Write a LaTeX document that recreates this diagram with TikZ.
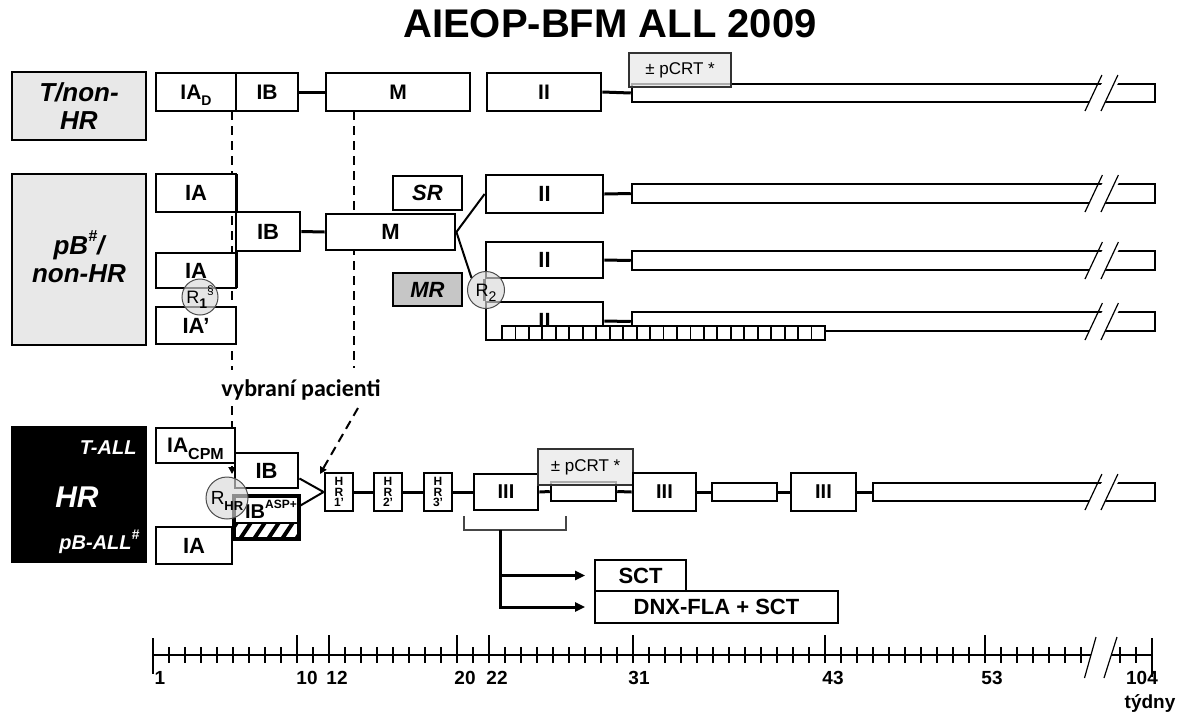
\documentclass[tikz,border=0pt]{standalone}
\usepackage{fontspec}
\setmainfont{Liberation Sans}
\newfontfamily\carl{Carlito}
\usetikzlibrary{arrows.meta,calc}
\definecolor{lightfill}{HTML}{E8E8E8}
\definecolor{mrfill}{HTML}{C6C6C6}
\newcommand\myfs[1]{\fontsize{#1}{#1}\selectfont}
\newcommand\sbs[2][14]{\raisebox{-0.3em}[0pt][0pt]{\myfs{#1}#2}}
\newcommand\sps[2][14]{\raisebox{0.5em}[0pt][0pt]{\myfs{#1}#2}}
\newcommand\mybox[7][]{%
  \pgfmathsetmacro\bxw{#5-(#3)}%
  \pgfmathsetmacro\bxh{#6-(#4)}%
  \node[box,#1,minimum width=\bxw pt,minimum height=\bxh pt] (#2) at ({(#3+#5)/2},{(#4+#6)/2}) {#7};}
\newcommand\brk[2]{%
  \fill[white] ({1085+0.47*7},{#2+2}) -- ({1085+0.47*(#2-#1+20)},{#1-2}) -- ({1101+0.47*(#2-#1+20)},{#1-2}) -- ({1101+0.47*7},{#2+2}) -- cycle;
  \draw[slash] (1085,{#2+9}) -- ({1085+0.47*(#2-#1+18)},{#1-9});
  \draw[slash] (1101,{#2+9}) -- ({1101+0.47*(#2-#1+18)},{#1-9});}
\begin{document}
\begin{tikzpicture}[x=1pt,y=-1pt,
  box/.style={draw,rectangle,line width=2.8pt,fill=white,inner sep=0pt,font=\myfs{22}\bfseries},
  boxit/.style={box,font=\myfs{22}\bfseries\itshape},
  lab/.style={box,fill=lightfill,align=center,font=\fontsize{26}{28}\selectfont\bfseries\itshape},
  bar/.style={line width=2.5pt},
  pcrt/.style={box,line width=1.5pt,draw=gray!40!black,fill=lightfill,fill opacity=0.75,text opacity=1,font=\myfs{17}},
  hrb/.style={box,align=center,font=\fontsize{12}{10.5}\selectfont\bfseries},
  conn/.style={line width=3pt},
  dashl/.style={line width=2pt,dash pattern=on 9pt off 6pt},
  rc/.style={circle,draw=gray!60!black,line width=1pt,fill=gray!30,fill opacity=0.65,text opacity=1,inner sep=0pt,minimum size=#1,font=\myfs{18}},
  slash/.style={line width=1.2pt},
  tick/.style={line width=2pt},
  tl/.style={font=\myfs{19}\bfseries},
  sarrow/.style={-{Triangle[length=7pt,width=7pt]}}
]
\useasboundingbox (0,0) rectangle (1186,713);

% title
\node[font=\myfs{40}\bfseries] (title) at (610,24) {AIEOP-BFM ALL 2009};

% dashed selection lines (under boxes)
\coordinate (dA1) at (232,111); \coordinate (dA2) at (232,370);
\coordinate (dB1) at (354,111); \coordinate (dB2) at (354,368);
\coordinate (dA3) at (232,406); \coordinate (dA4) at (232,474);
\coordinate (dC1) at (358,408); \coordinate (dC2) at (320,474);
\draw[dashl] (dA1) -- (dA2);
\draw[dashl] (dB1) -- (dB2);
\draw[dashl,sarrow] (dA3) -- (dA4);
\draw[dashl,sarrow] (dC1) -- (dC2);
\node[font=\carl\myfs{24}\bfseries] (vyb) at (301,390) {vybraní pacienti};

% ===== Row 1: T/non-HR =====
\mybox[lab]{lab1}{12}{72}{146}{140}{T/non-\\HR}
\mybox[font=\myfs{21}\bfseries]{iaD}{156}{73}{236}{111}{IA\sbs{D}}
\mybox[font=\myfs{21}\bfseries]{ib1}{236}{73}{298}{111}{IB}
\mybox[font=\myfs{21}\bfseries]{m1}{326}{73}{470}{111}{M}
\mybox[font=\myfs{21}\bfseries]{ii1}{487}{73}{601}{111}{II}
\mybox[bar]{bar1}{632}{84}{1155}{102}{}
\brk{84}{102}
\mybox[pcrt]{pc1}{629}{53}{731}{87}{± pCRT *}
\draw[conn] (ib1.east) -- (m1.west);
\draw[conn] (ii1.east) -- (bar1.west);

% ===== Row 2: pB/non-HR =====
\mybox[lab]{lab2}{12}{174}{146}{345}{pB\sps[16]{\#}/\\non-HR}
\draw[conn] (236,174) -- (236,288);
\mybox{ia2a}{156}{174}{236}{212}{IA}
\mybox{ia2b}{156}{253}{236}{288}{IA}
\mybox{ia2c}{156}{307}{236}{344}{IA'}
\mybox{ib2}{236}{212}{300}{251}{IB}
\mybox{m2}{326}{214}{455}{250}{M}
\mybox[boxit]{sr}{393}{176}{462}{210}{SR}
\mybox[boxit,fill=mrfill]{mr}{393}{273}{462}{306}{MR}
\draw[conn] (ib2.east) -- (m2.west);
\mybox{ii2a}{486}{175}{603}{213}{II}
\mybox{ii2b}{486}{242}{603}{278}{II}
\mybox{ii2c}{486}{302}{603}{340}{II}
\draw[conn] (ii2b.south west) -- (ii2c.north west);
\mybox[bar]{bar2a}{632}{184}{1155}{203}{}
\mybox[bar]{bar2b}{632}{251}{1155}{270}{}
\mybox[bar]{bar2c}{632}{312}{1155}{331}{}
\brk{184}{203}
\brk{251}{270}
\brk{312}{331}
\draw[conn] (ii2a.east) -- (bar2a.west);
\draw[conn] (ii2b.east) -- (bar2b.west);
\draw[conn] (ii2c.east) -- (bar2c.west);
\mybox[bar,line width=1.5pt]{hatch}{502}{326}{825}{340}{}
\foreach \k in {1,...,23}{\draw[line width=1.8pt] ({502+\k*13.46},326) -- ({502+\k*13.46},340);}
\draw[line width=2pt] (m2.east) -- (ii2a.west);
\node[rc=37] (r2) at (486,290) {R\sbs[14]{2}};
\draw[line width=2pt] (m2.east) -- (r2.140);
\node[rc=36] (r1) at (200,297) {R\sbs[14]{\bfseries 1}\sps[12]{§}};

% ===== Row 3: HR =====
\mybox[lab,fill=black]{lab3}{12}{427}{146}{562}{}
\node[anchor=east,text=white,font=\myfs{20}\bfseries\itshape] (lab3t) at (140,448) {T-ALL};
\node[text=white,font=\myfs{30}\bfseries\itshape] (lab3h) at (77,497) {HR};
\node[anchor=east,text=white,font=\myfs{20}\bfseries\itshape] (lab3p) at (143,545) {pB-ALL\sps[14]{\#}};
\mybox[font=\myfs{21}\bfseries]{iacpm}{156}{428}{235}{463}{IA\sbs[16]{CPM}}
\mybox{ib3}{235}{453}{298}{488}{IB}
\mybox{ibasp}{235}{497}{298}{538}{}
\begin{scope}
  \clip (235,523) rectangle (298,538);
  \foreach \i in {0,...,7}{\draw[line width=4pt] ({222+\i*14},545) -- ({242+\i*14},515);}
\end{scope}
\draw[line width=2.8pt] (ibasp.north west) rectangle (ibasp.south east);
\draw[line width=2.8pt] (235,523) -- (298,523);
\node[anchor=east,font=\myfs{20}\bfseries,inner sep=0pt] (ibasptxt) at (297,512) {IB\sps[12]{ASP+}};
\mybox{ia3}{156}{527}{232}{564}{IA}
\mybox[hrb]{hr1}{325}{473}{353}{511}{H\\R\\1'}
\mybox[hrb]{hr2}{374}{473}{402}{511}{H\\R\\2'}
\mybox[hrb]{hr3}{424}{473}{452}{511}{H\\R\\3'}
\draw[line width=2pt] ($(ib3.south east)!0.29!(ib3.north east)$) -- (hr1.west);
\draw[line width=2pt] ($(ibasp.north east)!0.24!(ibasp.south east)$) -- (hr1.west);
\mybox[font=\myfs{20}\bfseries]{iii1}{474}{474}{538}{510}{III}
\mybox[bar]{sb1}{551}{482}{616}{501}{}
\mybox[pcrt]{pc2}{538}{449}{633}{485}{± pCRT *}
\mybox[font=\myfs{20}\bfseries]{iii2}{633}{473}{696}{511}{III}
\mybox[bar]{sb2}{712}{483}{777}{501}{}
\mybox[font=\myfs{20}\bfseries]{iii3}{791}{473}{856}{511}{III}
\mybox[bar]{bar3}{873}{483}{1155}{501}{}
\brk{483}{501}
\draw[conn] (hr1.east) -- (hr2.west);
\draw[conn] (hr2.east) -- (hr3.west);
\draw[conn] (hr3.east) -- (iii1.west);
\draw[conn] (iii1.east) -- (sb1.west);
\draw[conn] (sb1.east) -- (iii2.west);
\draw[conn] (iii2.east) -- (sb2.west);
\draw[conn] (sb2.east) -- (iii3.west);
\draw[conn] (iii3.east) -- (bar3.west);
\node[rc=42,font=\myfs{19}] (rhr) at (227,498) {R\sbs[13]{\bfseries HR}};

% bracket and SCT arrows
\mybox[box,line width=1.8pt,font=\myfs{22}\bfseries]{sct}{595}{560}{686}{591}{SCT}
\mybox[box,line width=1.8pt,font=\myfs{22}\bfseries]{dnx}{595}{591}{838}{623}{DNX-FLA + SCT}
\coordinate (bl) at (464,516); \coordinate (br) at (566,516); \coordinate (bm) at (500,530);
\draw[line width=2pt,gray!55!black] (bl) -- (bl |- bm) -- (br |- bm) -- (br);
\draw[line width=3pt,-{Triangle[length=10pt,width=9pt]}] (bm) |- ([xshift=-9pt]dnx.west);
\draw[line width=2.5pt,-{Triangle[length=10pt,width=9pt]}] (bm |- sct.west) -- ([xshift=-9pt]sct.west);

% timeline
\draw[line width=2.5pt] (153,655) -- (1091,655);
\draw[line width=2.5pt] (1111,655) -- (1152,655);
\foreach \w in {1,...,59}{\draw[tick] ({153+16*(\w-1)},647) -- ({153+16*(\w-1)},663);}
\foreach \w in {10,12,20,22,31,43,53}{\draw[tick] ({153+16*(\w-1)},635) -- ({153+16*(\w-1)},663);}
\draw[tick] (153,638) -- (153,674);
\foreach \xx in {1120,1136}{\draw[tick] (\xx,647) -- (\xx,663);}
\draw[tick] (1152,638) -- (1152,677);
\draw[slash] (1084.5,678) -- (1096,637);
\draw[slash] (1104,678) -- (1117,637);
\node[tl] (w1) at (160,678) {1};
\node[tl] (w10) at (307,678) {10};
\node[tl] (w12) at (337,678) {12};
\node[tl] (w20) at (465,678) {20};
\node[tl] (w22) at (497,678) {22};
\node[tl] (w31) at (639,678) {31};
\node[tl] (w43) at (833,678) {43};
\node[tl] (w53) at (992,678) {53};
\node[tl] (w104) at (1142,678) {104};
\node[tl] (tyd) at (1150,703) {týdny};
\end{tikzpicture}
\end{document}
